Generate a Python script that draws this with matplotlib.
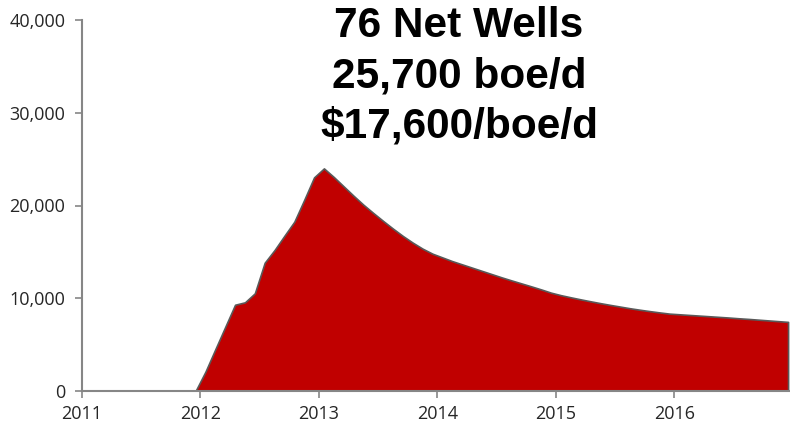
import matplotlib.pyplot as plt
import numpy as np
from matplotlib.ticker import FuncFormatter

##############################################################################
# Data (monthly net production, boe/d, Jan 2011 - Dec 2016)
years = [2011, 2012, 2013, 2014, 2015, 2016]
prod_2011 = [0, 0, 0, 0, 0, 0, 0, 0, 0, 0, 0, 0]
prod_2012 = [2080, 4500, 6900, 9300, 9560, 10530, 13830, 15200, 16740, 18250, 20600, 23030]
prod_2013 = [24000, 23070, 22060, 21050, 20080, 19190, 18330, 17500, 16710, 15990, 15340, 14800]
prod_2014 = [14400, 14000, 13650, 13300, 12950, 12600, 12250, 11920, 11600, 11280, 10950, 10600]
prod_2015 = [10330, 10100, 9880, 9670, 9470, 9280, 9100, 8920, 8760, 8610, 8470, 8340]
prod_2016 = [8270, 8200, 8130, 8060, 7990, 7920, 7840, 7770, 7690, 7610, 7530, 7450]
y_ticks = [0, 10000, 20000, 30000, 40000]
headline = "76 Net Wells\n25,700 boe/d\n$17,600/boe/d"

##############################################################################
prod = np.array(prod_2011 + prod_2012 + prod_2013 + prod_2014 + prod_2015 + prod_2016)
# mid-month positions in decimal years
t = years[0] + (np.arange(len(prod)) + 0.5)/12.0

fig = plt.figure(figsize=(7.9, 4.25), dpi=100)
ax = fig.add_axes([82/790, 34/425, (789-82)/790, (391-20)/425])

ax.fill_between(t, prod, 0, facecolor='#C00000', edgecolor='#595959', linewidth=1.2, zorder=2)

ax.set_xlim(years[0], years[0] + (789-82)/118.5)
ax.set_ylim(0, 40000)
ax.set_xticks(years)
ax.set_yticks(y_ticks)
ax.yaxis.set_major_formatter(FuncFormatter(lambda v, p: f"{int(v):,}"))

for s in ['top', 'right']:
    ax.spines[s].set_visible(False)
for s in ['left', 'bottom']:
    ax.spines[s].set_color('#868686')
    ax.spines[s].set_linewidth(1.5)
    ax.spines[s].set_zorder(3)

ax.tick_params(axis='both', colors='#868686', width=1.2, length=5, direction='out',
               labelcolor='#262626', labelsize=13)
ax.tick_params(axis='x', pad=5)
ax.tick_params(axis='y', pad=7)
for lbl in ax.get_xticklabels() + ax.get_yticklabels():
    lbl.set_family('Open Sans')

fig.text(459/790, 1 - 6/425, headline, ha='center', va='top', fontsize=30.5,
         fontweight='bold', family='Liberation Sans', linespacing=1.33, color='black')

fig.savefig('out.png', dpi=100)
